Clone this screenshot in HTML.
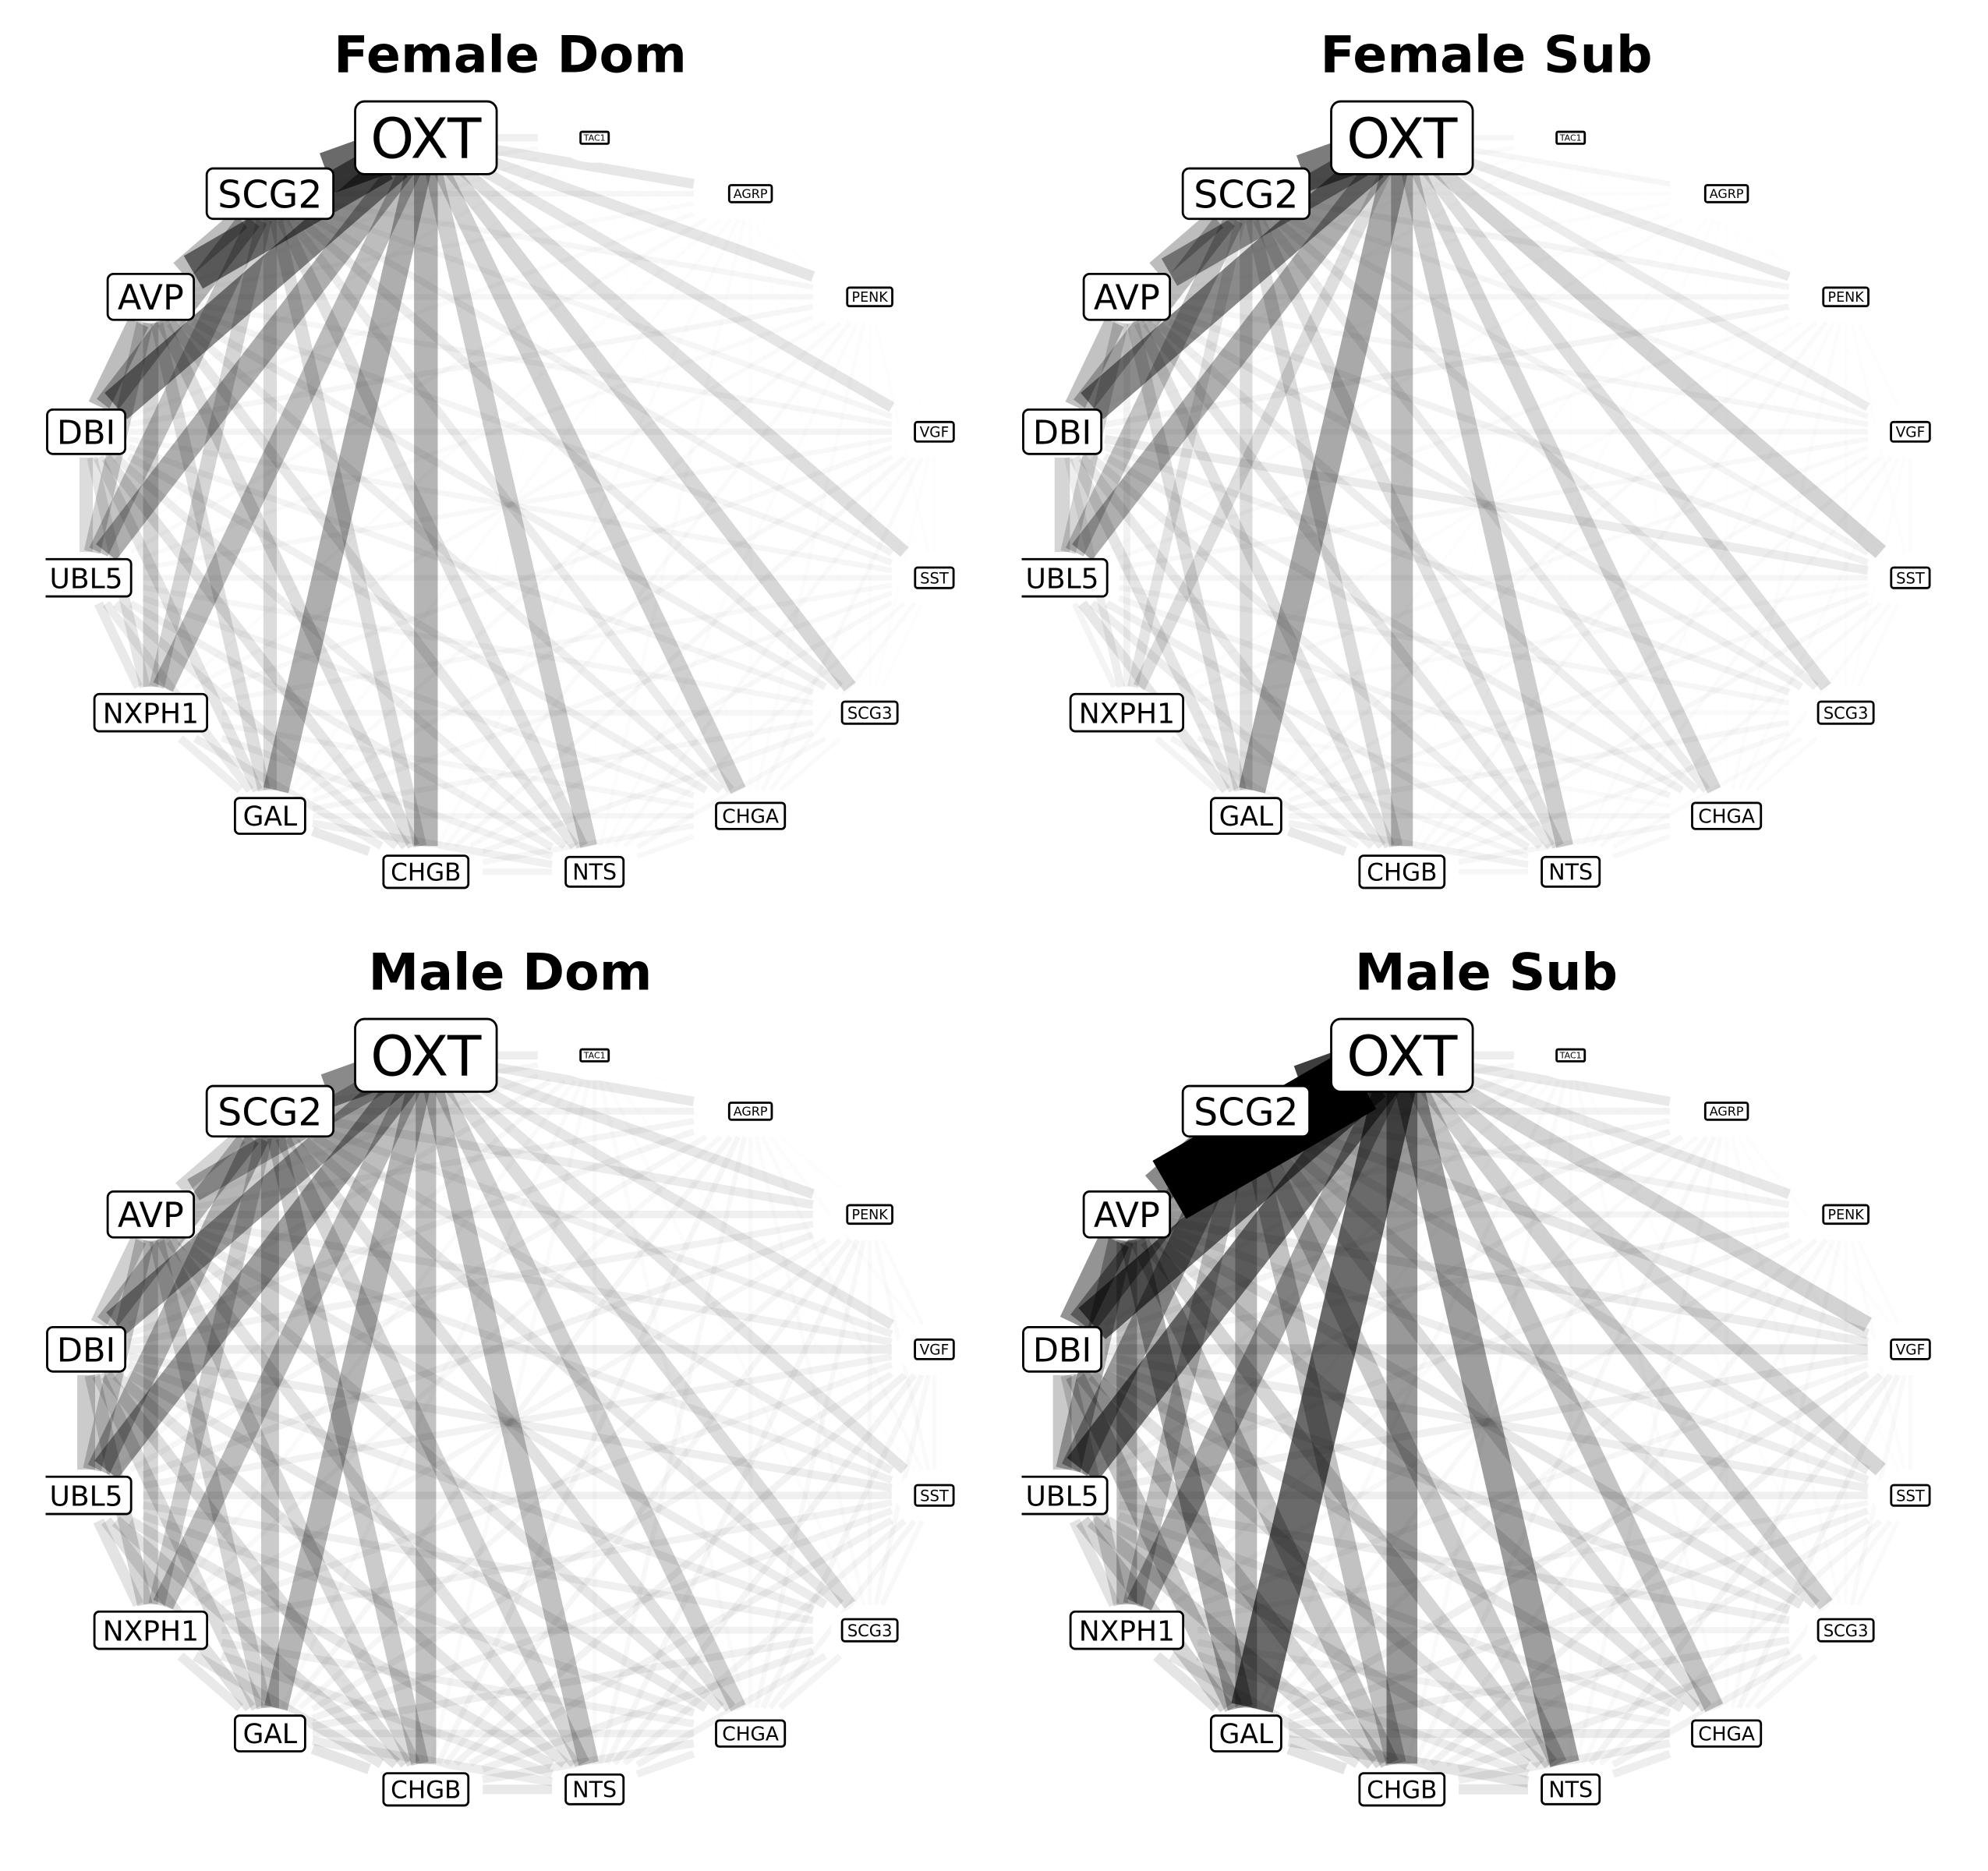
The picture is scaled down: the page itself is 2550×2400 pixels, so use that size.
<!DOCTYPE html>
<html lang="en">
<head>
<meta charset="utf-8">
<title>Neuropeptide co-expression networks</title>
<style>
  html, body { margin: 0; padding: 0; background: #fff; }
  svg { display: block; }
  text { font-family: "DejaVu Sans", "Liberation Sans", sans-serif; }
</style>
</head>
<body>
<svg id="figure" xmlns="http://www.w3.org/2000/svg" width="2550" height="2400" viewBox="0 0 2550 2400"></svg>
<script>
// Genes, counter-clockwise from the top-left node.
const geneNames = ["OXT","SCG2","AVP","DBI","UBL5","NXPH1","GAL","CHGB","NTS","CHGA","SCG3","SST","VGF","PENK","AGRP","TAC1"];
const geneLabelEm = [71,49,44.5,43,36,36,34.5,31,28.5,25,21,19.5,18.5,17.5,16,11];
const panelTitles = ["Female Dom","Female Sub","Male Dom","Male Sub"];

// Edge weights: row i lists weights from gene i to every later gene.
const femaleDomWeights = [
  [.62,.55,.5,.36,.3,.36,.33,.23,.22,.19,.16,.13,.13,.12,.08],
  [.3,.33,.28,.2,.17,.17,.15,.1,.1,.07,.05,.05,.05,.03],
  [.3,.22,.2,.16,.16,.12,.09,.08,.06,.05,.05,.03,.02],
  [.17,.13,.13,.13,.09,.08,.06,.05,.06,.05,.03,.02],
  [.11,.1,.1,.08,.06,.05,.05,.04,.03,.03,.015],
  [.09,.09,.07,.05,.05,.04,.04,.03,.02,.01],
  [.11,.08,.05,.05,.04,.04,.03,.02,.01],
  [.06,.05,.05,.04,.04,.03,.02,.01],
  [.04,.04,.03,.03,.02,.02,.01],
  [.03,.03,.03,.02,.015,.01],
  [.015,.015,.015,.01,.005],
  [.015,.015,.01,.005],
  [.01,.01,.005],
  [.005,.005],
  [.004]
];
const femaleSubWeights = [
  [.55,.45,.5,.36,.16,.38,.3,.23,.19,.16,.21,.1,.11,.05,.05],
  [.3,.3,.27,.13,.16,.17,.15,.1,.09,.06,.05,.06,.02,.03],
  [.28,.2,.07,.16,.14,.12,.09,.08,.07,.05,.05,.02,.02],
  [.2,.09,.13,.11,.09,.08,.07,.1,.05,.06,.02,.02],
  [.06,.12,.09,.08,.06,.05,.05,.04,.03,.02,.01],
  [.06,.06,.05,.03,.03,.03,.03,.02,.01,.01],
  [.11,.07,.05,.05,.04,.03,.03,.015,.01],
  [.05,.05,.04,.04,.03,.03,.015,.01],
  [.04,.03,.03,.025,.02,.01,.01],
  [.025,.025,.02,.02,.01,.01],
  [.02,.015,.015,.01,.005],
  [.02,.015,.01,.005],
  [.015,.01,.005],
  [.01,.005],
  [.004]
];
const maleDomWeights = [
  [.5,.34,.42,.42,.3,.33,.28,.28,.22,.17,.13,.12,.12,.11,.09],
  [.2,.3,.33,.22,.24,.24,.2,.15,.12,.09,.08,.1,.07,.05],
  [.22,.25,.19,.2,.18,.14,.12,.1,.08,.08,.08,.06,.04],
  [.24,.2,.17,.16,.13,.11,.09,.09,.1,.07,.06,.05],
  [.14,.15,.15,.12,.09,.08,.08,.07,.07,.05,.04],
  [.11,.12,.1,.08,.07,.07,.06,.05,.04,.03],
  [.13,.1,.08,.08,.07,.06,.05,.05,.03],
  [.11,.09,.08,.07,.07,.05,.05,.03],
  [.08,.07,.06,.06,.05,.04,.03],
  [.06,.05,.05,.04,.03,.025],
  [.04,.04,.03,.025,.02],
  [.03,.03,.025,.015],
  [.025,.02,.01],
  [.015,.01],
  [.008]
];
const maleSubWeights = [
  [.78,1,.6,.56,.38,.62,.44,.42,.27,.22,.2,.21,.12,.11,.09],
  [.5,.42,.4,.27,.3,.28,.24,.16,.13,.1,.12,.07,.07,.05],
  [.46,.35,.28,.36,.26,.2,.14,.12,.09,.1,.06,.05,.04],
  [.25,.2,.26,.2,.15,.12,.1,.09,.12,.06,.06,.04],
  [.14,.2,.18,.14,.09,.09,.08,.08,.05,.05,.03],
  [.13,.12,.1,.07,.06,.05,.05,.04,.03,.02],
  [.14,.14,.1,.08,.07,.08,.04,.04,.03],
  [.12,.09,.08,.06,.07,.04,.04,.03],
  [.09,.07,.05,.06,.03,.03,.02],
  [.05,.04,.05,.03,.02,.02],
  [.03,.035,.02,.02,.012],
  [.03,.02,.015,.01],
  [.02,.015,.008],
  [.01,.005],
  [.004]
];

const panelWeights = [femaleDomWeights, femaleSubWeights, maleDomWeights, maleSubWeights];

const SVG_NS = "http://www.w3.org/2000/svg";
const figure = document.getElementById("figure");

function svgEl(tag, attrs, parent) {
  const el = document.createElementNS(SVG_NS, tag);
  for (const k in attrs) el.setAttribute(k, attrs[k]);
  if (parent) parent.appendChild(el);
  return el;
}
function slug(s) { return s.toLowerCase().replace(/\s+/g, "-"); }

// Axis functions: layout circle (stretched to the axes) and weight scales.
const CX = 654.5, CY = 647.5, RX = 554.6, RY = 480;
const PANEL_DX = 1252, PANEL_DY = 1177;
function nodeX(i) { return CX + RX * Math.cos((101.25 + 22.5 * i) * Math.PI / 180); }
function nodeY(i) { return CY - RY * Math.sin((101.25 + 22.5 * i) * Math.PI / 180); }
function widthScale(w) { return 3 + 83 * w; }
function alphaScale(w) { return Math.min(1, Math.pow(w, 1.12)); }
function clipHalfWidth(i) { return geneNames[i].length * 18.2; }
const CLIP_HALF_HEIGHT = 33;

function trimFactor(i, dx, dy) {
  const tx = dx === 0 ? Infinity : clipHalfWidth(i) / Math.abs(dx);
  const ty = Math.abs(dy) < 1e-6 ? Infinity : CLIP_HALF_HEIGHT / Math.abs(dy);
  return Math.min(tx, ty);
}

panelTitles.forEach(function (title, p) {
  const col = p % 2, row = Math.floor(p / 2);
  const g = svgEl("g", { transform: "translate(" + (col * PANEL_DX) + "," + (row * PANEL_DY) + ")" }, figure);
  
  

  const clipId = "clip-" + p;
  const defs = svgEl("defs", {}, g);
  const cp = svgEl("clipPath", { id: clipId }, defs);
  svgEl("rect", { x: 58.5, y: 0, width: 1190, height: 1223 }, cp);

  const titleEl = svgEl("text", {
    x: CX, y: 92.5, "text-anchor": "middle", "font-size": 65, "font-weight": "bold", fill: "#000"
  }, g);
  titleEl.textContent = title;
  
  

  const edgeGroup = svgEl("g", {}, g);
  
  

  const weights = panelWeights[p];
  weights.forEach(function (rowVals, i) {
    rowVals.forEach(function (w, k) {
      const j = i + 1 + k;
      const ax = nodeX(i), ay = nodeY(i), bx = nodeX(j), by = nodeY(j);
      const dx = bx - ax, dy = by - ay;
      const ta = trimFactor(i, dx, dy), tb = trimFactor(j, dx, dy);
      const line = svgEl("line", {
        x1: ax + dx * ta, y1: ay + dy * ta,
        x2: bx - dx * tb, y2: by - dy * tb,
        stroke: "#000",
        "stroke-width": widthScale(w),
        "stroke-opacity": alphaScale(w)
      }, edgeGroup);
      
      
    });
  });

  const nodeGroup = svgEl("g", { "clip-path": "url(#" + clipId + ")" }, g);
  
  

  geneNames.forEach(function (name, i) {
    const halo = svgEl("ellipse", { cx: nodeX(i), cy: nodeY(i), rx: 50, ry: 32, fill: "#fff" }, nodeGroup);
    
    
  });

  geneNames.forEach(function (name, i) {
    const fs = geneLabelEm[i], x = nodeX(i), y = nodeY(i);
    const label = svgEl("g", {}, nodeGroup);
    
    
    const box = svgEl("rect", { fill: "#fff", stroke: "#000", "stroke-width": 2.8 }, label);
    const t = svgEl("text", {
      x: x, y: y + 0.365 * fs, "text-anchor": "middle", "font-size": fs, fill: "#000"
    }, label);
    t.textContent = name;
    const tw = t.getComputedTextLength();
    const bw = tw + 0.52 * fs + 2.5, bh = 1.3 * fs + 1;
    box.setAttribute("x", x - bw / 2);
    box.setAttribute("y", y - bh / 2);
    box.setAttribute("width", bw);
    box.setAttribute("height", bh);
    box.setAttribute("rx", 0.17 * fs);
    box.setAttribute("ry", 0.17 * fs);
  });
});
</script>
</body>
</html>
